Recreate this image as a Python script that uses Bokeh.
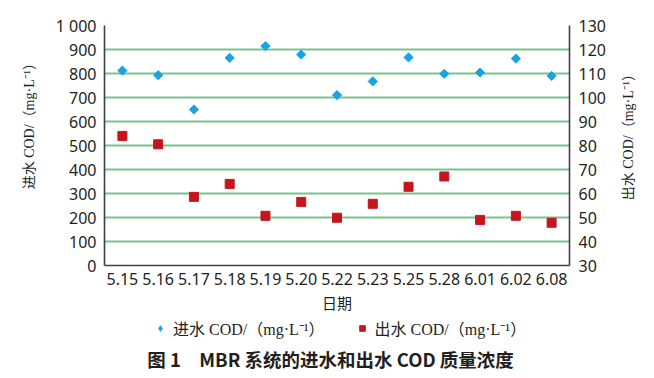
import math
from bokeh.plotting import figure
from bokeh.layouts import column, row
from bokeh.models import (Range1d, LinearAxis, FixedTicker, Legend, LegendItem, Label)
from bokeh.embed import file_html
from bokeh.resources import INLINE

dates = ["5.15", "5.16", "5.17", "5.18", "5.19", "5.20", "5.22", "5.23",
         "5.25", "5.28", "6.01", "6.02", "6.08"]
influent_cod = [812, 793, 650, 865, 914, 879, 710, 767, 867, 799, 804, 862, 790]
effluent_cod = [84.0, 80.5, 58.6, 64.0, 50.7, 56.5, 49.9, 55.7, 62.8, 67.1, 49.0, 50.7, 47.8]
left_ticks = list(range(0, 1001, 100))
right_ticks = list(range(30, 131, 10))

TICK_FONT = "'Noto Sans', sans-serif"
MIX_FONT = "'Liberation Serif', 'Noto Sans CJK SC'"
CJK_FONT = "'Noto Sans CJK SC'"
GRID = "#78c58c"
AXIS = "#404040"
TEXT = "#231f20"
BLUE = "#19a3e2"
RED = "#c5161d"
DIAMOND = dict(marker="square", angle=math.pi / 4, size=6.5, color=BLUE)
SQUARE = dict(marker="square", size=9, color=RED)

# ---------------- main chart ----------------
p = figure(width=608, height=315, x_range=dates, y_range=Range1d(0, 1000),
           output_backend="svg", toolbar_location=None,
           min_border_left=104, min_border_right=38, min_border_top=25, min_border_bottom=50)
p.x_range.range_padding = 0
p.extra_y_ranges = {"right": Range1d(30, 130)}
p.outline_line_color = None

p.xgrid.visible = False
p.ygrid.ticker = FixedTicker(ticks=left_ticks)
p.ygrid.grid_line_color = GRID
p.ygrid.grid_line_width = 2

p.scatter(dates, influent_cod, **DIAMOND)
p.scatter(dates, effluent_cod, y_range_name="right", **SQUARE)

ly = p.yaxis[0]
ly.ticker = FixedTicker(ticks=left_ticks)
ly.major_label_overrides = {1000: "1 000"}

ry = LinearAxis(y_range_name="right", ticker=FixedTicker(ticks=right_ticks))
p.add_layout(ry, "right")

xa = p.xaxis[0]
for ax in [ly, ry, xa]:
    ax.axis_line_color = AXIS
    ax.axis_line_width = 1.6
    ax.major_tick_line_color = None
    ax.minor_tick_line_color = None
    ax.major_tick_out = 0
    ax.major_tick_in = 0
    ax.major_label_text_font = TICK_FONT
    ax.major_label_text_font_size = "16px"
    ax.major_label_text_color = TEXT
    ax.axis_label_text_font_style = "normal"
    ax.axis_label_text_color = TEXT

ly.major_label_standoff = 8
ry.major_label_standoff = 9
xa.major_label_standoff = 7

ly.axis_label = "\u00a0" * 13 + "进水 COD/（mg·L⁻¹）"
ly.axis_label_text_font = MIX_FONT
ly.axis_label_text_font_size = "14px"
ly.axis_label_standoff = 16

xa.axis_label = "日期"
xa.axis_label_text_font = CJK_FONT
xa.axis_label_text_font_size = "15px"
xa.axis_label_standoff = 4

# ---------------- right-hand title strip ----------------
r = figure(width=30, height=315, x_range=Range1d(0, 30), y_range=Range1d(315, 0),
           output_backend="svg", toolbar_location=None,
           x_axis_type=None, y_axis_type=None, min_border=0)
r.outline_line_color = None
r.grid.visible = False
r.add_layout(Label(x=20, y=142, text="出水 COD/（mg·L⁻¹）", angle=math.pi / 2,
                   text_align="center", text_baseline="middle",
                   text_font=MIX_FONT, text_font_size="14px", text_color=TEXT))

# ---------------- legend + caption strip ----------------
q = figure(width=638, height=55, x_range=Range1d(0, 466), y_range=Range1d(55, 0),
           output_backend="svg", toolbar_location=None,
           x_axis_type=None, y_axis_type=None,
           min_border_left=104, min_border_right=68, min_border_top=0, min_border_bottom=0)
q.outline_line_color = None
q.grid.visible = False
k1 = q.scatter(x=[-100], y=[-100], marker="diamond", size=10, color=BLUE)
k2 = q.scatter(x=[-100], y=[-100], **SQUARE)

legend = Legend(items=[LegendItem(label="进水 COD/（mg·L⁻¹）", renderers=[k1]),
                       LegendItem(label="出水 COD/（mg·L⁻¹）", renderers=[k2])],
                orientation="horizontal", location=(49, 30))
legend.label_text_font = MIX_FONT
legend.label_text_font_size = "16px"
legend.label_text_color = TEXT
legend.border_line_color = None
legend.background_fill_alpha = 0
legend.glyph_width = 14
legend.glyph_height = 18
legend.label_height = 18
legend.label_standoff = 6
legend.spacing = 30
legend.padding = 0
legend.margin = 0
q.add_layout(legend)

q.add_layout(Label(x=226, y=43, text="图 1　MBR 系统的进水和出水 COD 质量浓度",
                   text_align="center", text_baseline="middle",
                   text_font=CJK_FONT, text_font_size="18.5px", text_font_style="bold",
                   text_color=TEXT))

layout = column(row(p, r, spacing=0), q, spacing=0)
open("out.html", "w").write(file_html(layout, INLINE))
